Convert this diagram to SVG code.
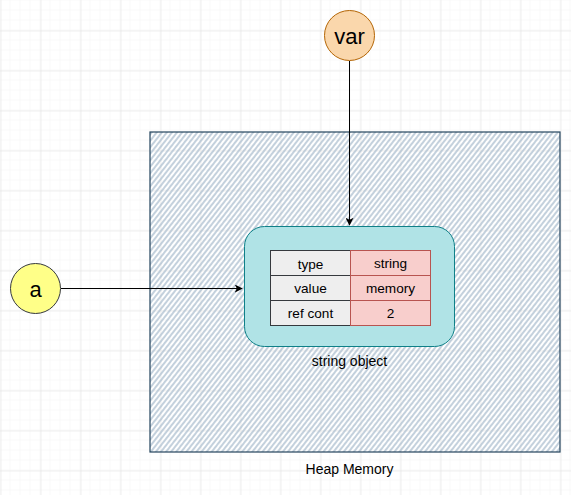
<svg xmlns="http://www.w3.org/2000/svg" width="571" height="495" viewBox="0 0 571 495">
<defs>
<pattern id="minor" width="10" height="10" patternUnits="userSpaceOnUse" x="0" y="0">
<path d="M10 0V10M0 10H10" fill="none" stroke="#f3f3f3" stroke-width="1"/>
</pattern>
<pattern id="major" width="40" height="40" patternUnits="userSpaceOnUse" x="0.5" y="30.5">
<rect width="40" height="40" fill="url(#minor)"/>
<path d="M0 0V40M0 0H40" fill="none" stroke="#e0e0e0" stroke-width="1"/>
</pattern>
<pattern id="hatch" width="4" height="4" patternUnits="userSpaceOnUse" patternTransform="rotate(-52)">
<line x1="0" y1="1" x2="4" y2="1" stroke="#abbdcf" stroke-width="1.4"/>
</pattern>
<marker id="arr" viewBox="0 0 10 10" refX="9" refY="5" markerWidth="8" markerHeight="8" markerUnits="userSpaceOnUse" orient="auto">
<path d="M0 0L10 5L0 10L2.5 5Z" fill="#000"/>
</marker>
</defs>
<style>
text{font-family:"Liberation Sans",Arial,sans-serif;fill:#000;text-anchor:middle;dominant-baseline:central}
.small{font-size:14px}
.cell{font-size:13.6px}
.big{font-size:22px}
.edge{fill:none;stroke:#000;stroke-width:1}
</style>
<rect width="571" height="495" fill="#fff"/>
<rect width="571" height="495" fill="url(#major)"/>
<g id="heap">
<rect x="150" y="132" width="410" height="320" fill="url(#hatch)" stroke="#23445d" stroke-width="1.2"/>
<text class="small" x="349.5" y="469">Heap Memory</text>
</g>
<g id="string-object">
<rect x="244.5" y="226.5" width="210" height="120" rx="20" fill="#b0e3e6" stroke="#0e8088" stroke-width="1"/>
<text class="small" x="349.5" y="361">string object</text>
</g>
<g id="table">
<rect x="270.5" y="250.5" width="80" height="25" fill="#eeeeee" stroke="#36393d"/>
<rect x="270.5" y="275.5" width="80" height="25" fill="#eeeeee" stroke="#36393d"/>
<rect x="270.5" y="300.5" width="80" height="25" fill="#eeeeee" stroke="#36393d"/>
<rect x="350.5" y="250.5" width="80" height="25" fill="#f8cecc" stroke="#b85450"/>
<rect x="350.5" y="275.5" width="80" height="25" fill="#f8cecc" stroke="#b85450"/>
<rect x="350.5" y="300.5" width="80" height="25" fill="#f8cecc" stroke="#b85450"/>
<text class="cell" x="310.5" y="264">type</text>
<text class="cell" x="310.5" y="288.5">value</text>
<text class="cell" x="310.5" y="313">ref cont</text>
<text class="cell" x="390.5" y="263">string</text>
<text class="cell" x="390.5" y="288.5">memory</text>
<text class="cell" x="390.5" y="313">2</text>
</g>
<g id="var">
<circle cx="349.5" cy="35.5" r="25" fill="#fad7ac" stroke="#b46504"/>
<text class="big" x="349.5" y="36">var</text>
</g>
<g id="a">
<circle cx="35.5" cy="288.5" r="25" fill="#ffff88" stroke="#36393d"/>
<text class="big" x="35.5" y="289">a</text>
</g>
<g id="connectors">
<path class="edge" d="M349.5 61V225" marker-end="url(#arr)"/>
<path class="edge" d="M61 288.5H242" marker-end="url(#arr)"/>
</g>
</svg>
